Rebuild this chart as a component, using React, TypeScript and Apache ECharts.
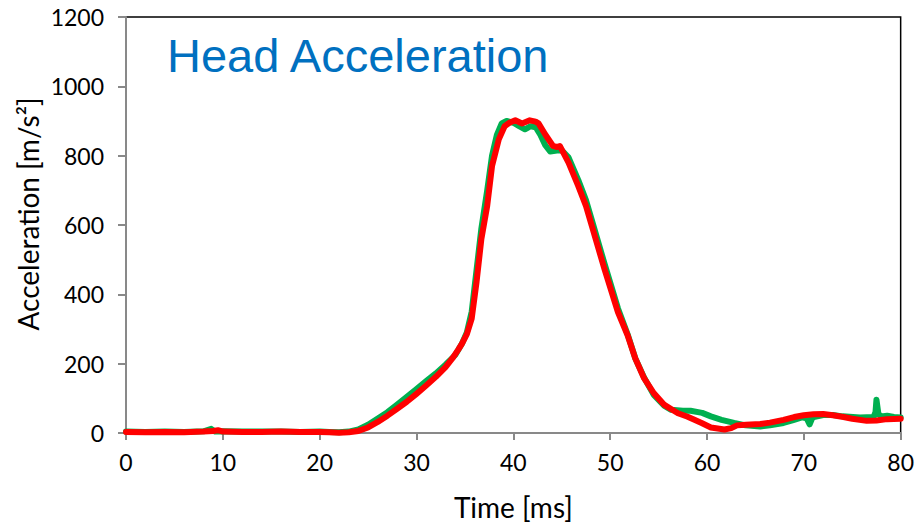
import React, { useEffect, useRef } from "react";
import * as echarts from "echarts";

const xTicks = [0, 10, 20, 30, 40, 50, 60, 70, 80];
const yTicks = [0, 200, 400, 600, 800, 1000, 1200];

const redTime = [0, 2, 4, 6, 8, 9, 9.5, 10, 12, 14, 16, 18, 20, 21, 22, 23, 24, 25, 26, 27, 28, 29, 30, 31, 32, 33, 33.7, 34.3, 34.7, 35.2, 35.7, 36.2, 36.7, 37.3, 37.8, 38.5, 39.1, 39.6, 40.2, 40.9, 41.7, 42.3, 42.6, 43.3, 44.1, 44.5, 44.8, 45.7, 46.7, 47.5, 48.1, 49.4, 50.8, 51.8, 52.6, 53.5, 54.5, 55.6, 57.0, 58.0, 58.7, 59.5, 60.4, 61.8, 62.5, 63.1, 64, 65.5, 66.5, 67.9, 69, 70, 71, 72, 73, 74.1, 75, 76.5, 77.5, 78.6, 80];
const redAccel = [3, 2, 3, 2, 4, 6, 8, 4, 3, 3, 4, 3, 3, 2, 1, 2, 6, 16, 32, 50, 70, 90, 113, 137, 162, 190, 215, 240, 258, 285, 330, 435, 560, 655, 770, 847, 885, 895, 902, 893, 902, 898, 893, 861, 828, 825, 828, 780, 713, 655, 598, 474, 349, 282, 215, 158, 115, 81, 57, 47, 38, 28, 16, 10, 14, 22, 24, 26, 30, 38, 46, 51, 54, 55, 51, 46, 41, 35, 36, 40, 41];

const greenTime = [0, 2, 4, 6, 8, 8.8, 9.2, 10, 12, 14, 16, 18, 20, 21, 22, 23, 24, 25, 26, 27, 28, 29, 30, 31, 32, 33, 34, 34.7, 35.2, 35.7, 36.2, 36.7, 37.3, 37.8, 38.3, 38.8, 39.3, 40, 40.6, 41.2, 41.8, 42.3, 42.8, 43.3, 43.8, 44.5, 45, 45.7, 46.7, 47.5, 48.1, 49.4, 50.8, 51.8, 52.6, 53.5, 54.5, 55.6, 56.3, 57.5, 58.3, 59.5, 60.4, 61.5, 62.8, 64, 65.5, 66.5, 67.9, 69, 69.8, 70.3, 70.6, 70.9, 72, 73, 74, 75.8, 77.2, 77.4, 77.5, 77.7, 78, 78.6, 79.3, 80];
const greenAccel = [4, 3, 4, 3, 5, 12, 4, 5, 4, 4, 4, 3, 4, 3, 2, 4, 10, 24, 42, 60, 82, 104, 127, 150, 172, 197, 225, 258, 290, 350, 470, 590, 700, 800, 860, 893, 900, 895, 885, 876, 885, 882, 860, 830, 812, 815, 815, 795, 730, 672, 615, 490, 360, 285, 215, 160, 110, 78, 67, 64, 64, 58, 48, 38, 29, 22, 19, 22, 29, 38, 45, 42, 25, 45, 52, 52, 48, 45, 46, 60, 96, 55, 48, 50, 46, 45];

const pair = (t: number[], v: number[]) => t.map((x, i) => [x, v[i]]);

export default function App() {
  const ref = useRef<HTMLDivElement>(null);
  useEffect(() => {
    if (!ref.current) return;
    const chart = echarts.init(ref.current, null, { renderer: "svg" });
    chart.setOption({
      animation: false,
      backgroundColor: "#fff",
      grid: { left: 126, top: 17, right: 13, bottom: 91, show: true, borderColor: "#000", borderWidth: 1.5 },
      xAxis: {
        type: "value",
        min: xTicks[0],
        max: xTicks[xTicks.length - 1],
        interval: 10,
        name: "Time [ms]",
        nameLocation: "middle",
        nameGap: 60,
        nameTextStyle: { fontFamily: "Lato", fontSize: 28, color: "#000" },
        axisLine: { lineStyle: { color: "#898989", width: 2 } },
        axisTick: { inside: false, length: 7, lineStyle: { color: "#898989", width: 2 } },
        axisLabel: { fontFamily: "Lato", fontSize: 23, color: "#000", margin: 17, formatter: (v: number) => String(v) },
        splitLine: { show: false },
      },
      yAxis: {
        type: "value",
        min: yTicks[0],
        max: yTicks[yTicks.length - 1],
        interval: 200,
        axisLine: { show: true, lineStyle: { color: "#898989", width: 2 } },
        axisTick: { show: true, inside: false, length: 8, lineStyle: { color: "#898989", width: 2 } },
        axisLabel: { fontFamily: "Lato", fontSize: 23, color: "#000", margin: 22, formatter: (v: number) => String(v) },
        splitLine: { show: false },
      },
      graphic: [
        {
          type: "text",
          x: 167,
          y: 55,
          style: { text: "Head Acceleration", fontFamily: "Liberation Sans", fontSize: 47, fill: "#0070C0", verticalAlign: "middle", align: "left" },
        },
        {
          type: "text",
          x: 28,
          y: 214,
          rotation: Math.PI / 2,
          style: { text: "Acceleration [m/s²]", fontFamily: "Lato", fontSize: 28, fill: "#000", verticalAlign: "middle", align: "center" },
        },
      ],
      series: [
        {
          type: "line",
          data: pair(greenTime, greenAccel),
          showSymbol: false,
          smooth: false,
          lineStyle: { color: "#00B050", width: 6, cap: "round", join: "round" },
          itemStyle: { color: "#00B050" },
        },
        {
          type: "line",
          data: pair(redTime, redAccel),
          showSymbol: false,
          smooth: false,
          lineStyle: { color: "#FF0000", width: 6, cap: "round", join: "round" },
          itemStyle: { color: "#FF0000" },
        },
      ],
    });
    return () => chart.dispose();
  }, []);
  return <div ref={ref} style={{ width: 917, height: 526, position: "absolute", left: 0, top: 0 }} />;
}
